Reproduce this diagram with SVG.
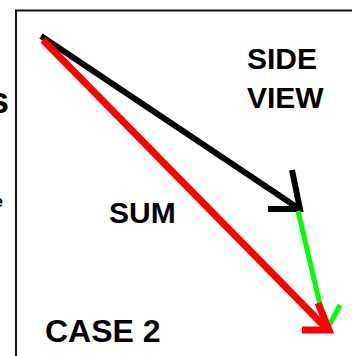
<svg xmlns="http://www.w3.org/2000/svg" width="352" height="356" viewBox="0 0 352 356">
<style>
text{font-family:"Liberation Sans",Arial,sans-serif;font-weight:bold;fill:#000}
.lbl{font-size:30px}
.blk{stroke:#000;stroke-width:6;fill:none;stroke-linecap:butt}
.red{stroke:#ff0000;stroke-width:7;fill:none}
.grn{stroke:#00ff00;stroke-width:5;fill:none}
</style>
<rect width="352" height="356" fill="#fff"/>
<g id="frame">
<path d="M16,356 V10.5 H352" fill="none" stroke="#111" stroke-width="2"/>
</g>
<g id="edge-text">
<text x="9" y="113" font-size="36" text-anchor="end">s</text>
<text x="3" y="207" font-size="16" font-weight="normal" text-anchor="end">e</text>
</g>
<g id="connectors">
<g id="black-arrow">
<line class="blk" x1="41" y1="36" x2="298" y2="208"/>
<polyline class="blk" points="268,209 300,209 292,170"/>
</g>
<g id="green-arrow">
<line class="grn" x1="298" y1="211" x2="326" y2="330"/>
<line class="grn" x1="326" y1="331" x2="340" y2="305"/>
</g>
<g id="red-arrow">
<line class="red" x1="43" y1="40" x2="326" y2="328"/>
<polyline class="red" points="302,330 329,330 318,303" stroke-linejoin="miter"/>
</g>
</g>
<g id="side-view"><text class="lbl" x="247" y="69">SIDE</text><text class="lbl" x="247" y="108">VIEW</text></g>
<g id="sum"><text class="lbl" x="109" y="223">SUM</text></g>
<g id="case2"><text class="lbl" x="45" y="342" font-size="32" style="font-size:32px">CASE 2</text></g>
</svg>
